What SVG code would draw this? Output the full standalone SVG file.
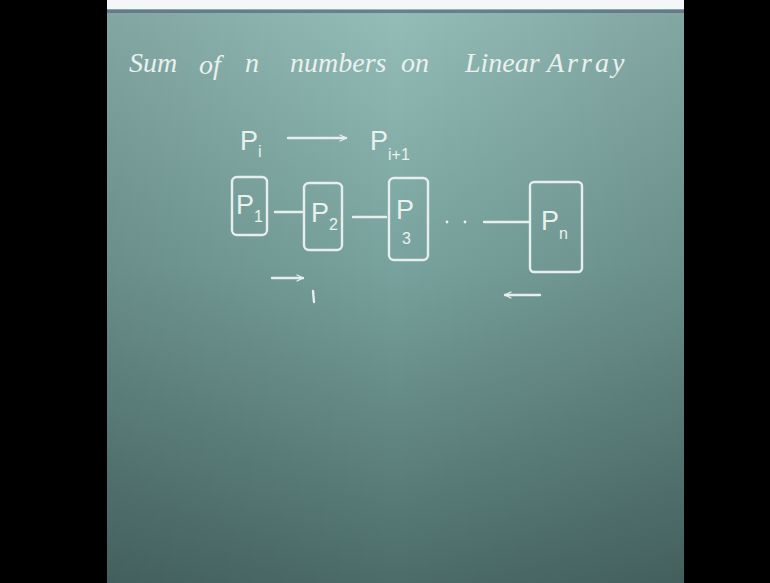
<svg xmlns="http://www.w3.org/2000/svg" width="770" height="583" viewBox="0 0 770 583">
<defs>
<linearGradient id="board" x1="0" y1="0" x2="0" y2="1">
<stop offset="0" stop-color="#94bdb8"/>
<stop offset="0.45" stop-color="#78a29d"/>
<stop offset="1" stop-color="#4c6c69"/>
</linearGradient>
<linearGradient id="side" x1="0" y1="0" x2="1" y2="0">
<stop offset="0" stop-color="#000" stop-opacity="0.12"/>
<stop offset="0.5" stop-color="#000" stop-opacity="0"/>
<stop offset="1" stop-color="#000" stop-opacity="0.12"/>
</linearGradient>
<marker id="ah" viewBox="0 0 10 10" refX="9" refY="5" markerWidth="8" markerHeight="8" orient="auto" markerUnits="userSpaceOnUse">
<path d="M1,1 L9,5 L1,9" fill="none" stroke="#e6efed" stroke-width="1.6"/>
</marker>
</defs>
<style>
.chalk{fill:none;stroke:#e6efed;stroke-width:2.4;stroke-linecap:round;stroke-linejoin:round}
.t{font-family:"Liberation Serif",serif;font-style:italic;fill:#e9f1ef;font-size:28px}
.lab{font-family:"Liberation Sans",sans-serif;fill:#e9f1ef;font-size:27px}
.s{font-size:16px}
</style>
<rect x="0" y="0" width="770" height="583" fill="#000"/>
<rect x="107" y="0" width="577" height="9" fill="#f4f6f7"/>
<rect x="107" y="9" width="577" height="574" fill="url(#board)"/>
<rect x="107" y="9" width="577" height="574" fill="url(#side)"/>
<rect x="107" y="10" width="577" height="3" fill="#5d6f86" opacity="0.8"/>
<g id="title">
<text class="t" x="129" y="72">Sum</text>
<text class="t" x="199" y="74">of</text>
<text class="t" x="245" y="72">n</text>
<text class="t" x="290" y="72">numbers</text>
<text class="t" x="401" y="72">on</text>
<text class="t" x="465" y="72" font-size="24">Linear</text>
<text class="t" x="547" y="72" font-size="31" letter-spacing="3">Array</text>
</g>
<g id="rule">
<text class="lab" x="240" y="150">P<tspan class="s" dy="7">i</tspan></text>
<line class="chalk" x1="288" y1="138" x2="346" y2="138" marker-end="url(#ah)"/>
<text class="lab" x="370" y="150">P<tspan class="s" dy="10">i+1</tspan></text>
</g>
<g id="connectors">
<line class="chalk" x1="275" y1="212" x2="302" y2="212"/>
<line class="chalk" x1="353" y1="217" x2="386" y2="217"/>
<circle cx="447" cy="222" r="1.4" fill="#e6efed"/>
<circle cx="465" cy="222" r="1.4" fill="#e6efed"/>
<line class="chalk" x1="484" y1="222" x2="529" y2="222"/>
<line class="chalk" x1="272" y1="278" x2="303" y2="278" marker-end="url(#ah)"/>
<line class="chalk" x1="313" y1="291" x2="314" y2="302"/>
<line class="chalk" x1="540" y1="295" x2="505" y2="295" marker-end="url(#ah)"/>
</g>
<g id="p1">
<rect class="chalk" x="232" y="177" width="35" height="58" rx="5"/>
<text class="lab" x="236" y="214">P<tspan class="s" dy="8">1</tspan></text>
</g>
<g id="p2">
<rect class="chalk" x="304" y="183" width="38" height="67" rx="5"/>
<text class="lab" x="311" y="222">P<tspan class="s" dy="8">2</tspan></text>
</g>
<g id="p3">
<rect class="chalk" x="389" y="178" width="39" height="82" rx="5"/>
<text class="lab" x="396" y="219">P</text>
<text class="lab s" x="402" y="244">3</text>
</g>
<g id="pn">
<rect class="chalk" x="530" y="182" width="52" height="90" rx="4"/>
<text class="lab" x="541" y="230">P<tspan class="s" dy="9">n</tspan></text>
</g>
</svg>
